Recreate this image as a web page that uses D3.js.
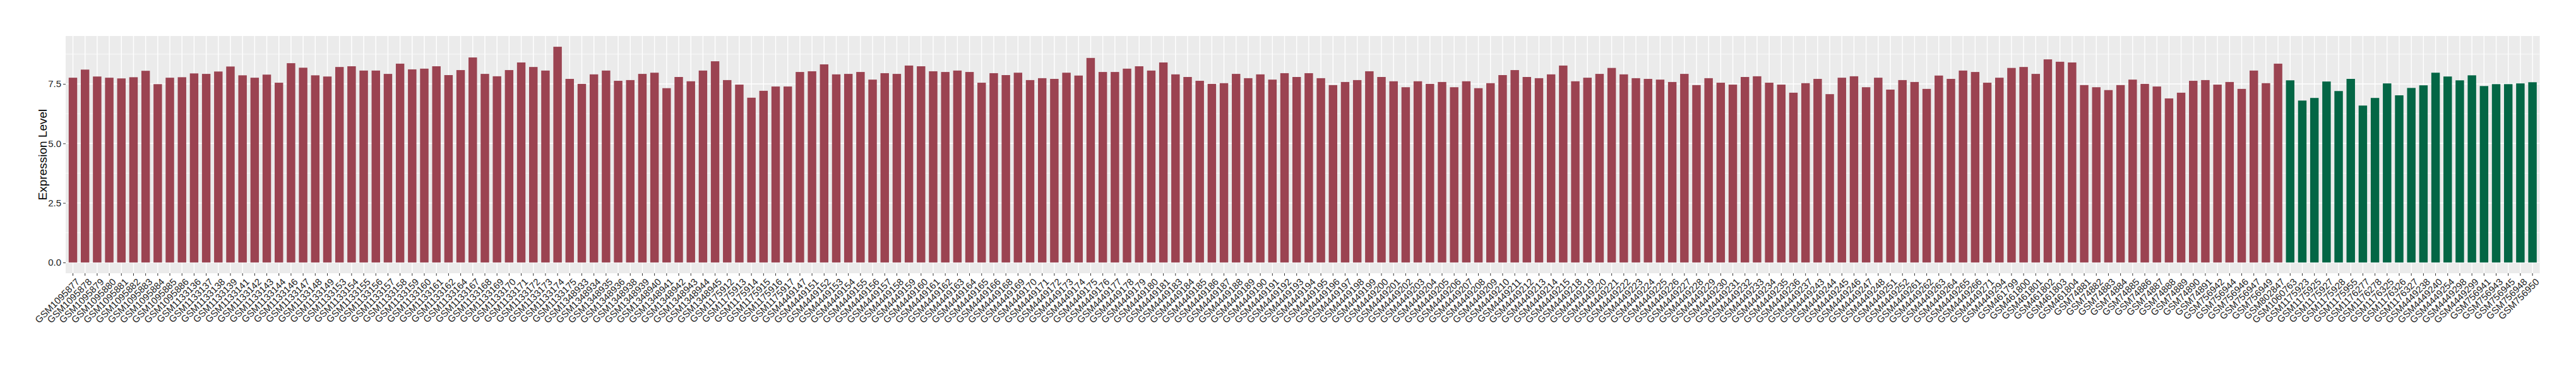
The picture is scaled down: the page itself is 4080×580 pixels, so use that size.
<!DOCTYPE html>
<html>
<head>
<meta charset="utf-8">
<script src="https://cdn.jsdelivr.net/npm/d3@7"></script>
<style>
  html, body { margin: 0; padding: 0; background: #ffffff; }
  svg { display: block; }
</style>
</head>
<body>
<svg id="chart" width="4080" height="580"></svg>
<script>
// ---- data ----
const samplesRed = [
  "GSM1095877","GSM1095878","GSM1095879","GSM1095880","GSM1095881","GSM1095882","GSM1095883","GSM1095884","GSM1095885","GSM1095886",
  "GSM1133136","GSM1133137","GSM1133138","GSM1133139","GSM1133141","GSM1133142","GSM1133143","GSM1133144","GSM1133146","GSM1133147",
  "GSM1133148","GSM1133149","GSM1133153","GSM1133154","GSM1133155","GSM1133156","GSM1133157","GSM1133158","GSM1133159","GSM1133160",
  "GSM1133161","GSM1133162","GSM1133164","GSM1133167","GSM1133168","GSM1133169","GSM1133170","GSM1133171","GSM1133172","GSM1133173",
  "GSM1133174","GSM1133175","GSM1348933","GSM1348934","GSM1348935","GSM1348936","GSM1348938","GSM1348939","GSM1348940","GSM1348941",
  "GSM1348942","GSM1348943","GSM1348944","GSM1348945","GSM1175912","GSM1175913","GSM1175914","GSM1175915","GSM1175916","GSM1175917",
  "GSM4449147","GSM4449151","GSM4449152","GSM4449153","GSM4449154","GSM4449155","GSM4449156","GSM4449157","GSM4449158","GSM4449159",
  "GSM4449160","GSM4449161","GSM4449162","GSM4449163","GSM4449164","GSM4449165","GSM4449166","GSM4449168","GSM4449169","GSM4449170",
  "GSM4449171","GSM4449172","GSM4449173","GSM4449174","GSM4449175","GSM4449176","GSM4449177","GSM4449178","GSM4449179","GSM4449180",
  "GSM4449181","GSM4449183","GSM4449184","GSM4449185","GSM4449186","GSM4449187","GSM4449188","GSM4449189","GSM4449190","GSM4449191",
  "GSM4449192","GSM4449193","GSM4449194","GSM4449195","GSM4449196","GSM4449197","GSM4449198","GSM4449199","GSM4449200","GSM4449201",
  "GSM4449202","GSM4449203","GSM4449204","GSM4449205","GSM4449206","GSM4449207","GSM4449208","GSM4449209","GSM4449210","GSM4449211",
  "GSM4449212","GSM4449213","GSM4449214","GSM4449215","GSM4449218","GSM4449219","GSM4449220","GSM4449221","GSM4449222","GSM4449223",
  "GSM4449224","GSM4449225","GSM4449226","GSM4449227","GSM4449228","GSM4449229","GSM4449230","GSM4449231","GSM4449232","GSM4449233",
  "GSM4449234","GSM4449235","GSM4449236","GSM4449237","GSM4449243","GSM4449244","GSM4449245","GSM4449246","GSM4449247","GSM4449248",
  "GSM4449251","GSM4449252","GSM4449261","GSM4449262","GSM4449263","GSM4449264","GSM4449265","GSM4449266","GSM4449271","GSM4449294",
  "GSM461799","GSM461800","GSM461801","GSM461802","GSM461803","GSM461804","GSM74881","GSM74882","GSM74883","GSM74884",
  "GSM74885","GSM74886","GSM74887","GSM74888","GSM74889","GSM74890","GSM74891","GSM756942","GSM756944","GSM756946",
  "GSM756947","GSM756949","GSM802847"
];
const valuesRed = [
  7.76,8.10,7.81,7.76,7.73,7.78,8.05,7.49,7.76,7.78,
  7.94,7.92,8.02,8.23,7.86,7.76,7.89,7.55,8.37,8.18,
  7.86,7.81,8.21,8.24,8.06,8.06,7.92,8.35,8.11,8.14,
  8.24,7.87,8.08,8.61,7.92,7.82,8.08,8.40,8.21,8.06,
  9.06,7.71,7.50,7.90,8.06,7.63,7.66,7.92,7.97,7.32,
  7.79,7.61,8.06,8.45,7.66,7.47,6.92,7.21,7.39,7.39,
  8.00,8.03,8.32,7.90,7.92,8.00,7.68,7.95,7.92,8.27,
  8.24,8.03,8.00,8.06,8.00,7.55,7.95,7.87,7.97,7.66,
  7.74,7.71,7.97,7.85,8.59,8.00,8.00,8.14,8.24,8.06,
  8.40,7.90,7.79,7.63,7.50,7.53,7.92,7.74,7.90,7.68,
  7.95,7.79,7.95,7.74,7.45,7.58,7.66,8.03,7.79,7.61,
  7.36,7.61,7.50,7.58,7.36,7.61,7.32,7.53,7.87,8.08,
  7.79,7.74,7.90,8.27,7.61,7.76,7.92,8.17,7.90,7.74,
  7.71,7.68,7.58,7.92,7.45,7.74,7.55,7.47,7.79,7.82,
  7.55,7.47,7.13,7.53,7.71,7.07,7.76,7.82,7.36,7.76,
  7.26,7.66,7.58,7.29,7.85,7.71,8.06,8.00,7.55,7.76,
  8.17,8.21,7.92,8.53,8.43,8.40,7.45,7.36,7.24,7.45,
  7.68,7.50,7.39,6.89,7.13,7.63,7.66,7.47,7.58,7.29,
  8.06,7.53,8.35
];
const samplesGreen = [
  "GSM1060763","GSM1175923","GSM1175925","GSM1175927","GSM1175928","GSM1175955","GSM1176277","GSM1176278","GSM1176325","GSM1176326",
  "GSM1176327","GSM4449238","GSM4449240","GSM4449254","GSM4449298","GSM4449299","GSM756941","GSM756943","GSM756945","GSM756948",
  "GSM756950"
];
const valuesGreen = [
  7.65,6.80,6.91,7.60,7.20,7.71,6.59,6.91,7.52,7.02,
  7.33,7.44,7.97,7.81,7.65,7.86,7.41,7.49,7.49,7.52,
  7.57
];
const yTicks = [0, 2.5, 5.0, 7.5];
const yTitle = "Expression Level";

// ---- styles ----
const COLOR_RED = "#9b4351";
const COLOR_GREEN = "#036645";
const PANEL_BG = "#ebebeb";
const TEXT_COLOR = "#222222";
const FONT = "'Liberation Sans', Arial, Helvetica, sans-serif";

// ---- layout ----
const panel = { left: 104, right: 4022.6, top: 57, bottom: 433 };

const rows = samplesRed.map((s, i) => ({ sample: s, value: valuesRed[i], color: COLOR_RED }))
  .concat(samplesGreen.map((s, i) => ({ sample: s, value: valuesGreen[i], color: COLOR_GREEN })));

const svg = d3.select("#chart");

const x = d3.scaleBand()
  .domain(rows.map(d => d.sample))
  .range([panel.left, panel.right])
  .paddingInner(0.3)
  .paddingOuter(0.25);

const maxV = d3.max(rows, d => d.value);
const y = d3.scaleLinear()
  .domain([-0.05 * maxV, 1.05 * maxV])
  .range([panel.bottom, panel.top]);

// panel background
svg.append("rect")
  .attr("x", panel.left).attr("y", panel.top)
  .attr("width", panel.right - panel.left)
  .attr("height", panel.bottom - panel.top)
  .attr("fill", PANEL_BG);

// minor gridlines
const minor = [];
for (let i = 0; i < yTicks.length; i++) {
  const step = yTicks[1] - yTicks[0];
  const m = yTicks[i] + step / 2;
  if (m <= y.domain()[1]) minor.push(m);
}
svg.append("g").selectAll("line").data(minor).join("line")
  .attr("x1", panel.left).attr("x2", panel.right)
  .attr("y1", d => y(d)).attr("y2", d => y(d))
  .attr("stroke", "#ffffff").attr("stroke-width", 0.7);

// major horizontal gridlines
svg.append("g").selectAll("line").data(yTicks).join("line")
  .attr("x1", panel.left).attr("x2", panel.right)
  .attr("y1", d => y(d)).attr("y2", d => y(d))
  .attr("stroke", "#ffffff").attr("stroke-width", 1.4);

// vertical gridlines
svg.append("g").selectAll("line").data(x.domain()).join("line")
  .attr("x1", d => x(d) + x.bandwidth() / 2).attr("x2", d => x(d) + x.bandwidth() / 2)
  .attr("y1", panel.top).attr("y2", panel.bottom)
  .attr("stroke", "#ffffff").attr("stroke-width", 1.4);

// bars
svg.append("g").selectAll("rect").data(rows).join("rect")
  .attr("x", d => x(d.sample))
  .attr("width", x.bandwidth())
  .attr("y", d => y(d.value))
  .attr("height", d => y(0) - y(d.value))
  .attr("fill", d => d.color);

// y axis
const yAxis = d3.axisLeft(y).tickValues(yTicks).tickFormat(d3.format(".1f")).tickSize(4).tickPadding(3);
const gy = svg.append("g").attr("transform", `translate(${panel.left},0)`).call(yAxis);
gy.select(".domain").remove();
gy.selectAll(".tick line").attr("stroke", "#333333").attr("stroke-width", 1);
gy.selectAll(".tick text").attr("font-family", FONT).attr("font-size", 15).attr("fill", TEXT_COLOR);

// x axis
const xAxis = d3.axisBottom(x).tickSize(4).tickPadding(3);
const gx = svg.append("g").attr("transform", `translate(0,${panel.bottom})`).call(xAxis);
gx.select(".domain").remove();
gx.selectAll(".tick line").attr("stroke", "#333333").attr("stroke-width", 1);
gx.selectAll(".tick text")
  .attr("font-family", FONT).attr("font-size", 15).attr("fill", TEXT_COLOR)
  .attr("text-anchor", "end")
  .attr("x", 0).attr("y", 0).attr("dy", "0.72em")
  .attr("transform", "translate(4,7) rotate(-45)");

// y title
svg.append("text")
  .attr("transform", `translate(67,${(panel.top + panel.bottom) / 2}) rotate(-90)`)
  .attr("text-anchor", "middle")
  .attr("dominant-baseline", "central")
  .attr("font-family", FONT).attr("font-size", 19).attr("fill", "#000000")
  .text(yTitle);
</script>
</body>
</html>
